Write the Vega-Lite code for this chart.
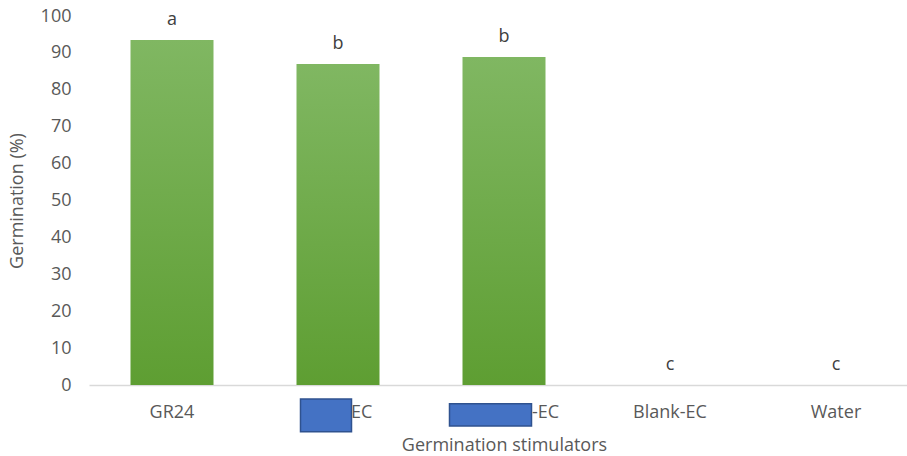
{
  "$schema": "https://vega.github.io/schema/vega-lite/v6.json",
  "autosize": "none",
  "width": 830,
  "height": 369,
  "padding": {"left": 89, "top": 16, "right": 0, "bottom": 71},
  "background": "white",
  "config": {
    "view": {"stroke": null},
    "font": "Open Sans",
    "axis": {"labelColor": "#595959", "titleColor": "#595959", "labelFont": "Open Sans", "titleFont": "Open Sans", "titleFontWeight": "normal", "labelOverlap": false}
  },
  "data": {"values": [
    {"stimulator": "GR24", "germination": 93.5, "letter": "a"},
    {"stimulator": "■-EC", "germination": 87.0, "letter": "b"},
    {"stimulator": "■■-EC", "germination": 88.9, "letter": "b"},
    {"stimulator": "Blank-EC", "germination": 0, "letter": "c"},
    {"stimulator": "Water", "germination": 0, "letter": "c"}
  ]},
  "encoding": {
    "x": {
      "field": "stimulator", "type": "nominal", "sort": null,
      "scale": {"paddingInner": 0.5, "paddingOuter": 0.25},
      "axis": {
        "title": "Germination stimulators", "titleFontSize": 18, "titlePadding": 15,
        "labelAngle": 0, "labelFontSize": 18, "labelPadding": 18,
        "labelExpr": "datum.value == '■-EC' ? 'EC' : datum.value == '■■-EC' ? '-EC' : datum.value",
        "labelAlign": {"condition": {"test": "datum.value == '■-EC' || datum.value == '■■-EC'", "value": "left"}, "value": "center"},
        "labelOffset": {"condition": [{"test": "datum.value == '■-EC'", "value": 13}, {"test": "datum.value == '■■-EC'", "value": 28}], "value": 0},
        "ticks": false, "domainColor": "#D9D9D9", "domainWidth": 1.5
      }
    },
    "y": {
      "field": "germination", "type": "quantitative",
      "scale": {"domain": [0, 100], "nice": false},
      "axis": {"title": "Germination (%)", "titleFontSize": 18, "titlePadding": 14, "labelFontSize": 18, "labelPadding": 18, "labelOverlap": false, "tickCount": 11, "values": [0,10,20,30,40,50,60,70,80,90,100], "grid": false, "ticks": false, "domain": false}
    }
  },
  "layer": [
    {
      "mark": {"type": "bar", "fill": {"gradient": "linear", "x1": 0, "y1": 0, "x2": 0, "y2": 1, "stops": [{"offset": 0, "color": "#80B762"}, {"offset": 1, "color": "#5E9E32"}]}}
    },
    {
      "mark": {"type": "text", "baseline": "alphabetic", "dy": -15, "fontSize": 18, "fill": "#404040"},
      "encoding": {
        "text": {"field": "letter"}
      }
    },
    {
      "transform": [{"filter": "datum.stimulator == '■-EC'"}],
      "mark": {"type": "bar", "width": 51, "xOffset": -12, "fill": "#4472C4", "stroke": "#2F528F", "strokeWidth": 1.5, "clip": false},
      "encoding": {"y": {"datum": -3.8}, "y2": {"datum": -12.7}}
    },
    {
      "transform": [{"filter": "datum.stimulator == '■■-EC'"}],
      "mark": {"type": "bar", "width": 82, "xOffset": -13.5, "fill": "#4472C4", "stroke": "#2F528F", "strokeWidth": 1.5, "clip": false},
      "encoding": {"y": {"datum": -5.1}, "y2": {"datum": -11.1}}
    }
  ]
}
